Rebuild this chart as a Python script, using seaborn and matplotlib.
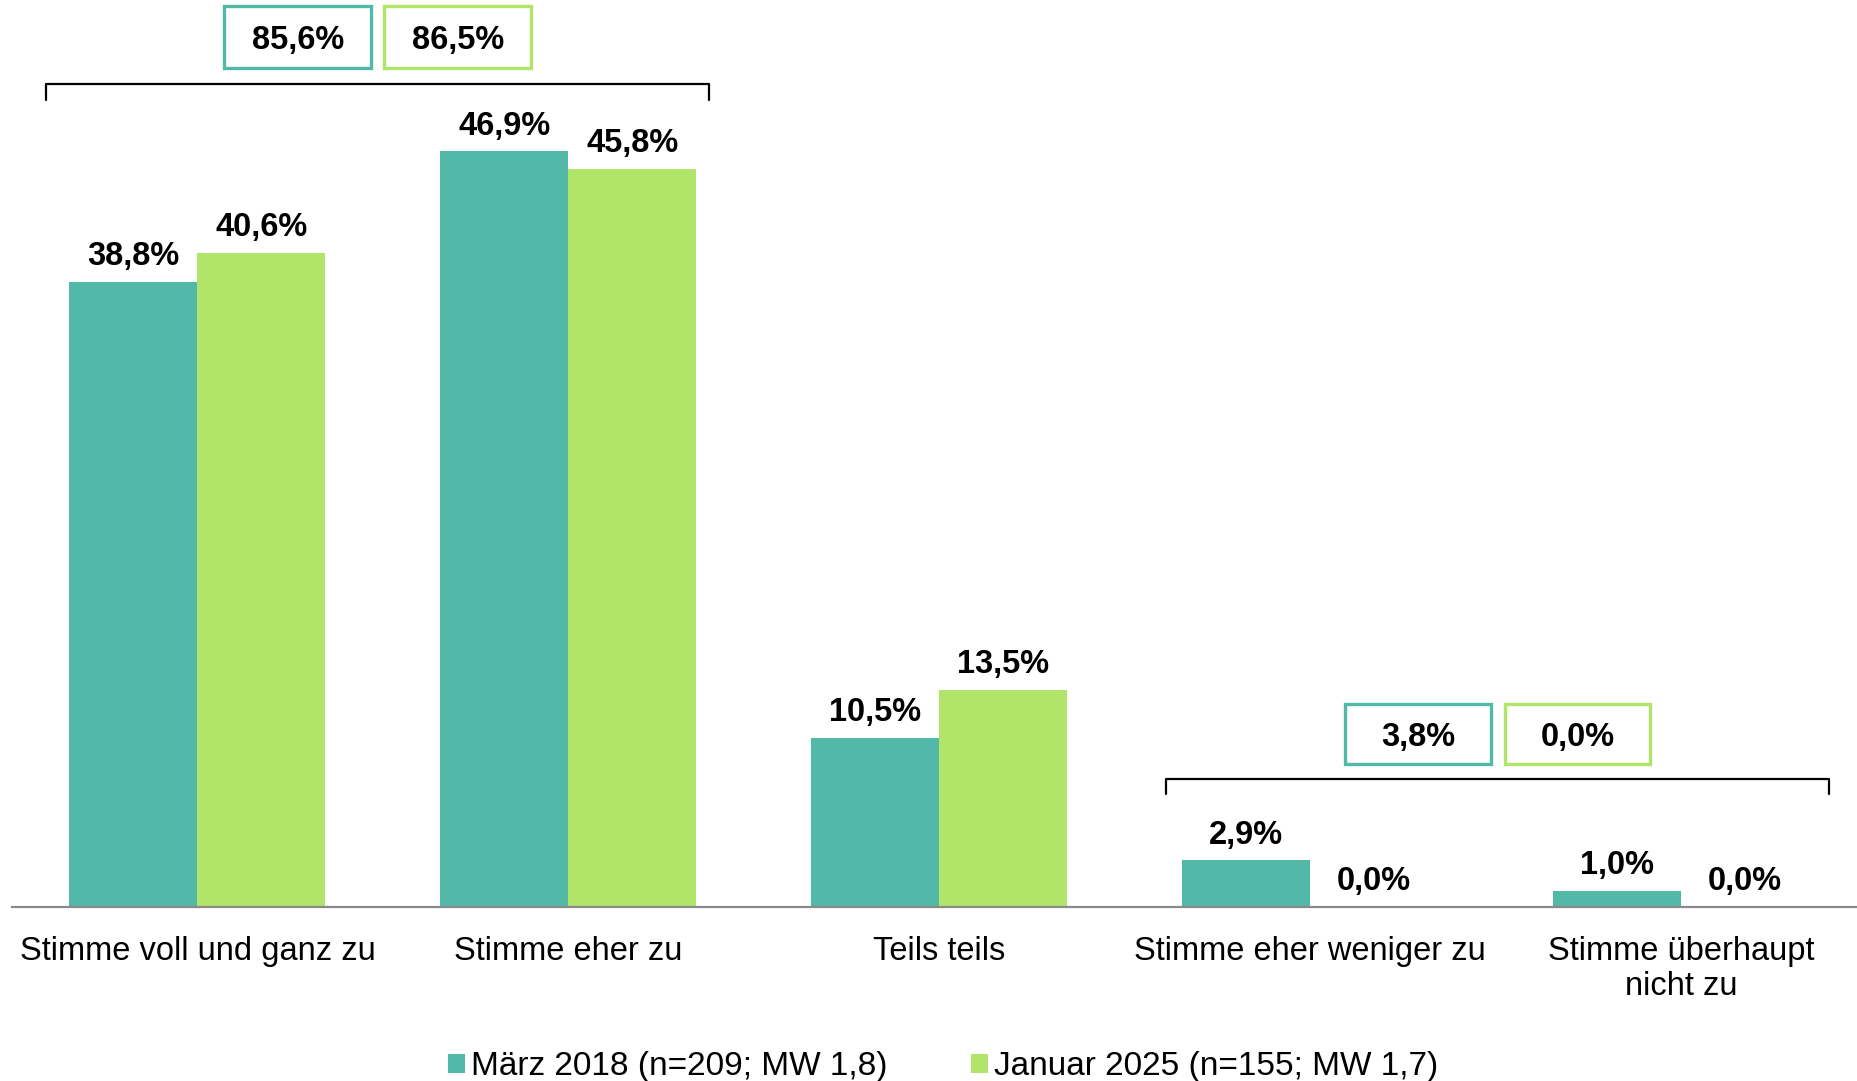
import matplotlib
matplotlib.use("Agg")
import matplotlib.pyplot as plt
from matplotlib.patches import Rectangle, Patch
import pandas as pd
import seaborn as sns

# Data
categories = ["Stimme voll und ganz zu", "Stimme eher zu", "Teils teils",
              "Stimme eher weniger zu", "Stimme überhaupt\nnicht zu"]
series = ["März 2018 (n=209; MW 1,8)", "Januar 2025 (n=155; MW 1,7)"]
values_2018 = [38.8, 46.9, 10.5, 2.9, 1.0]
values_2025 = [40.6, 45.8, 13.5, 0.0, 0.0]
agree_totals = [85.6, 86.5]
disagree_totals = [3.8, 0.0]
colors = ["#52B9A9", "#B1E56A"]

FONT = ["Liberation Sans", "DejaVu Sans"]


def fmt(v):
    return f"{v:.1f}%".replace(".", ",")


def draw_group_total(ax, x0, x1, y_line, y_end, boxes):
    """Bracket over a group of categories with two boxed totals above."""
    ax.plot([x0, x0, x1, x1], [y_end, y_line, y_line, y_end],
            color="black", lw=1.6, clip_on=False, solid_joinstyle="round")
    for (bx0, bx1, by0, by1, total, col) in boxes:
        ax.add_patch(Rectangle((bx0, by0), bx1 - bx0, by1 - by0, fill=False,
                               edgecolor=col, lw=2.4, clip_on=False))
        ax.text((bx0 + bx1) / 2, (by0 + by1) / 2, fmt(total), ha="center",
                va="center_baseline", fontsize=23.5, fontweight="bold",
                color="black", clip_on=False)


sns.set_theme(style="white")
plt.rcParams["font.family"] = FONT
plt.rcParams["text.color"] = "black"
plt.rcParams["xtick.color"] = "black"

df = pd.DataFrame({
    "Kategorie": categories * 2,
    "Welle": [series[0]] * len(categories) + [series[1]] * len(categories),
    "Wert": values_2018 + values_2025,
})

fig = plt.figure(figsize=(18.57, 10.81), dpi=100)
ax = fig.add_axes([12 / 1857, 1 - 907 / 1081, 1 - 12 / 1857, 907 / 1081])

sns.barplot(data=df, x="Kategorie", y="Wert", hue="Welle", palette=colors,
            width=0.69, saturation=1, legend=False, ax=ax, linewidth=0)

for cont in ax.containers:
    ax.bar_label(cont, labels=[fmt(b.get_height()) for b in cont], padding=7,
                 fontsize=23.5, fontweight="bold", color="black")

ax.set_xlim(-0.5, 4.475)
ax.set_ylim(0, 56.3)
ax.set_xlabel("")
ax.set_ylabel("")
ax.set_yticks([])
ax.tick_params(axis="x", length=0, pad=21, labelsize=23.5)
for lab in ax.get_xticklabels():
    lab.set_linespacing(1.15)
for side in ["top", "right", "left"]:
    ax.spines[side].set_visible(False)
ax.spines["bottom"].set_color("#8a8a8a")
ax.spines["bottom"].set_linewidth(1.6)

draw_group_total(ax, -0.407, 1.38, 51.1, 50.1, [
    (0.073, 0.469, 52.1, 55.9, agree_totals[0], colors[0]),
    (0.504, 0.900, 52.1, 55.9, agree_totals[1], colors[1]),
])
draw_group_total(ax, 2.612, 4.399, 7.94, 7.0, [
    (3.094, 3.488, 8.87, 12.6, disagree_totals[0], colors[0]),
    (3.526, 3.916, 8.87, 12.6, disagree_totals[1], colors[1]),
])

handles = [Patch(facecolor=c, edgecolor="none") for c in colors]
fig.legend(handles, series, loc="center", bbox_to_anchor=(0.508, 0.013),
           ncol=2, frameon=False, fontsize=24, handlelength=0.5,
           handleheight=0.5, handletextpad=0.2, columnspacing=2.5)

fig.savefig("out.png", dpi=100)
